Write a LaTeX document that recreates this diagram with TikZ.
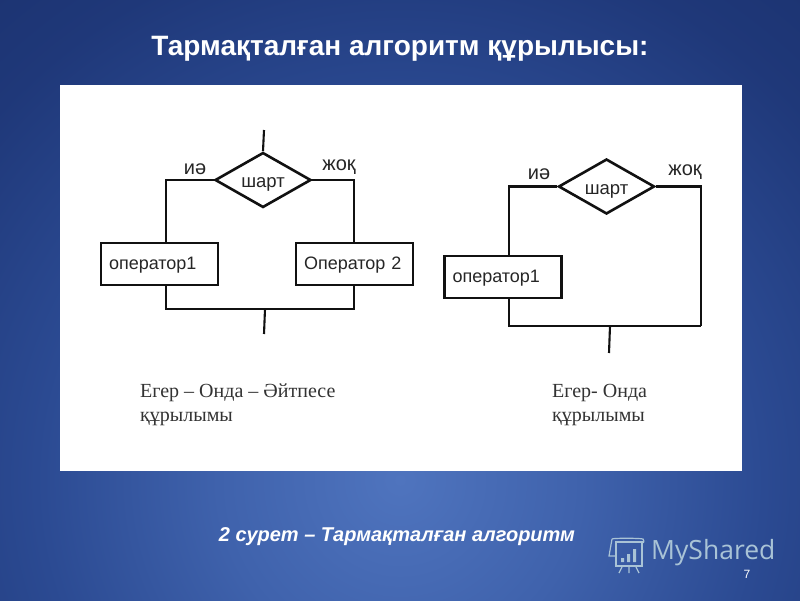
\documentclass[tikz,border=0pt]{standalone}
\usepackage{fontspec}
\setmainfont{Liberation Sans}
\newfontfamily\serifcyr{Liberation Serif}
\newfontfamily\wmfont{Open Sans}
\usetikzlibrary{shapes.geometric}
\definecolor{bgouter}{HTML}{14265C}
\definecolor{bgdark}{HTML}{1F3879}
\definecolor{bgmid}{HTML}{2B4A92}
\definecolor{bglight}{HTML}{3F62AC}
\definecolor{bginner}{HTML}{4F74BE}
\definecolor{wmark}{HTML}{A9C3D6}
\definecolor{inkline}{HTML}{111111}
\pgfdeclareradialshading{bgrad}{\pgfpoint{0bp}{0bp}}{color(0bp)=(bginner); color(7bp)=(bglight); color(14bp)=(bgmid); color(21bp)=(bgdark); color(36bp)=(bgouter); color(50bp)=(bgouter)}
\tikzset{
  x=1pt,y=-1pt,
  wire/.style={draw=inkline,line width=2.1pt},
  flowbox/.style={draw=inkline,line width=2.8pt,fill=white,minimum width=117pt,minimum height=42pt,inner sep=0pt,text width=101pt,text height=14pt,text depth=3pt,align=left,font=\fontsize{18}{20}\selectfont,text=black!85},
  cond/.style={diamond,draw=inkline,line width=2.6pt,fill=white,inner sep=0pt,aspect=1.75,minimum width=96pt,minimum height=55pt,text height=16pt,text depth=1pt,font=\fontsize{18.5}{20}\selectfont,text=black!85},
  branch/.style={font=\fontsize{20}{22}\selectfont,text=black!85,inner sep=0pt},
  caption/.style={font=\serifcyr\fontsize{20}{24}\selectfont,text=black!80,align=left,inner sep=0pt,anchor=north west},
  wm/.style={draw=wmark,line width=1.2pt}
}
\begin{document}
\begin{tikzpicture}
\useasboundingbox (0,0) rectangle (800,600);
\begin{scope}
\clip (0,0) rectangle (800,600);
\shade[shading=bgrad] (400,480) circle[radius=650];
\end{scope}
\node[inner sep=0pt,font=\bfseries\fontsize{28}{30}\selectfont,text=white] (title) at (400,49) {Тармақталған алгоритм құрылысы:};
\fill[white] (60,85) rectangle (742,471);
% left flowchart
\node[cond] (d1) at (263,180) {шарт};
\node[flowbox] (b1) at (159.5,264) {оператор1};
\node[flowbox] (b2) at (354.5,264) {Оператор 2};
\coordinate (in1) at (264,130);
\coordinate (b1t) at (166,243);
\coordinate (b1b) at (166,285);
\coordinate (b2t) at (354,243);
\coordinate (b2b) at (354,285);
\coordinate (m1) at (265,309);
\coordinate (out1) at (264,334);
\draw[wire] (in1) -- (d1.north);
\draw[wire] (d1.west) -| (b1t);
\draw[wire] (d1.east) -| (b2t);
\draw[wire] (b1b) |- (m1) -| (b2b);
\draw[wire] (m1) -- (out1);
\node[branch] (y1) at (195,169) {иә};
\node[branch] (n1) at (339,167) {жоқ};
% right flowchart
\node[cond] (d2) at (606.5,186.5) {шарт};
\node[flowbox] (b3) at (503,277) {оператор1};
\coordinate (b3t) at (509,255);
\coordinate (b3b) at (509,299);
\coordinate (r2) at (701,326);
\coordinate (m2) at (610,326);
\coordinate (out2) at (609,353);
\draw[wire] (d2.west) -| (b3t);
\draw[wire] (d2.east) -| (r2);
\draw[wire] (b3b) |- (r2);
\draw[wire] (m2) -- (out2);
\node[branch] (y2) at (539,174) {иә};
\node[branch] (n2) at (685,172) {жоқ};
% captions
\node[caption] (c1) at (140,384) {Егер – Онда – Әйтпесе\\құрылымы};
\node[caption] (c2) at (552,384) {Егер- Онда\\құрылымы};
% footer
\node[inner sep=0pt,font=\bfseries\itshape\fontsize{20}{22}\selectfont,text=white] (foot) at (397,537) {2 сурет – Тармақталған алгоритм};
% watermark
\node[inner sep=0pt,anchor=west,font=\wmfont\fontsize{26.5}{29}\selectfont,text=wmark] (wmt) at (651,553) {MyShared};
\draw[wm] (616,542) rectangle (642,566);
\draw[wm] (612,539) .. controls (612,538) and (640,538) .. (643,539) .. controls (645,542) and (643,544) .. (641,542);
\draw[wm] (612,539) -- (609,556) -- (615,556);
\draw[wm] (622,567) -- (619,573) (629,567) -- (629,573) (636,567) -- (639,573);
\fill[wmark] (621,558) rectangle (624,562) (627,554) rectangle (630,562) (633,549) rectangle (636,562);
\node[inner sep=0pt,font=\fontsize{12}{14}\selectfont,text=white] (pg) at (747,574) {7};
\end{tikzpicture}
\end{document}
